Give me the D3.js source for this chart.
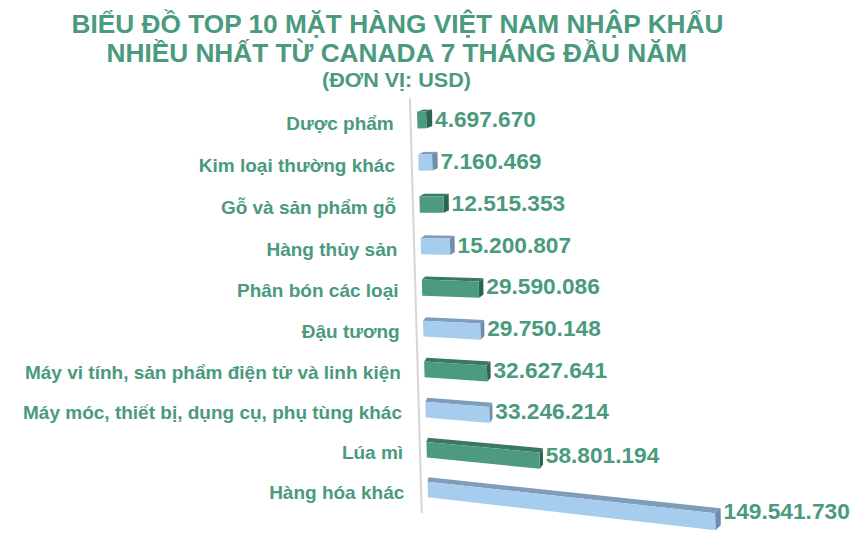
<!DOCTYPE html>
<html>
<head>
<meta charset="utf-8">
<script src="https://cdn.jsdelivr.net/npm/d3@7"></script>
<style>
  html, body { margin: 0; padding: 0; background: #ffffff; }
  svg { display: block; }
</style>
</head>
<body>
<div id="chart"></div>
<script>
// ---------------- DATA ----------------
const titleLines = [
  "BIỂU ĐỒ TOP 10 MẶT HÀNG VIỆT NAM NHẬP KHẨU",
  "NHIỀU NHẤT TỪ CANADA 7 THÁNG ĐẦU NĂM",
  "(ĐƠN VỊ: USD)"
];
const categories = [
  "Dược phẩm",
  "Kim loại thường khác",
  "Gỗ và sản phẩm gỗ",
  "Hàng thủy sản",
  "Phân bón các loại",
  "Đậu tương",
  "Máy vi tính, sản phẩm điện tử và linh kiện",
  "Máy móc, thiết bị, dụng cụ, phụ tùng khác",
  "Lúa mì",
  "Hàng hóa khác"
];
const values = [4697670, 7160469, 12515353, 15200807, 29590086, 29750148, 32627641, 33246214, 58801194, 149541730];

// ---------------- STYLE / LAYOUT ----------------
const W = 857, H = 558;
const textColor = "#4a9a7e";
const palette = [
  { front: "#4c9a7f", top: "#3a7862", side: "#2d6450" },
  { front: "#a6cdee", top: "#7f9cb9", side: "#6e8cab" }
];
const fmt = d3.formatLocale({ decimal: ",", thousands: ".", grouping: [3], currency: ["", ""] }).format(",d");

const svg = d3.select("#chart").append("svg")
  .attr("width", W).attr("height", H)
  .style("font-family", "'Liberation Sans', Arial, Helvetica, sans-serif");

svg.append("rect").attr("width", W).attr("height", H).attr("fill", "#ffffff");

// Value scale (length of bars along the value axis)
const x = d3.scaleLinear().domain([0, d3.max(values)]).range([0, 287.5]);
// Row scale: category index -> row coordinate
const row = d3.scaleLinear().domain([0, categories.length - 1]).range([0, 9]);
const barThick = 0.39; // in row units

// Perspective projection (3D look of the original)
const horizonY = 195, vanishX = -2200;
function leftY(r) { return 10537 - 2550000 / (r + 244.6); }
function leftX(r) { return 417 + 0.0285 * (leftY(r) - 111); }
function project(v, r) {
  const lx = leftX(r), ly = leftY(r);
  const X = lx + x(v);
  const Y = horizonY + (ly - horizonY) * (X - vanishX) / (lx - vanishX);
  return [X, Y];
}
function depth(p) {
  const [X, Y] = p;
  const dx = Math.max(0, Math.min(7, 6 - 5 * (Y - 111) / 370 + 5 * (X - 427) / 290));
  const dy = -(2 + 2.8 * (Y - 111) / 400);
  return [X + dx, Y + dy];
}

// Title
const titleSpecs = [
  { y: 33.3, size: 26, x0: 71.5, x1: 723.5 },
  { y: 61.7, size: 26, x0: 106.5, x1: 687 },
  { y: 86.5, size: 19.5, x0: 322, x1: 471 }
];
titleLines.forEach((t, k) => {
  const s = titleSpecs[k];
  svg.append("text")
    .attr("x", s.x0).attr("y", s.y)
    .attr("textLength", s.x1 - s.x0)
    .attr("lengthAdjust", "spacingAndGlyphs")
    .style("font-family", "'Liberation Sans Narrow', 'Arial Narrow', 'Liberation Sans', Arial, sans-serif")
    .style("font-weight", "bold")
    .style("font-size", s.size + "px")
    .attr("fill", textColor)
    .text(t);
});

// Axis line (left wall edge)
const axTop = [leftX(-0.32) - 6.7, leftY(-0.32)];
const axBot = [leftX(9.79) - 6.7, leftY(9.79)];
svg.append("line")
  .attr("x1", axTop[0]).attr("y1", axTop[1])
  .attr("x2", axBot[0]).attr("y2", axBot[1])
  .attr("stroke", "#d6d6d6").attr("stroke-width", 2);

// Bars
const line = d3.line();
const g = svg.append("g");
values.forEach((v, i) => {
  const r0 = row(i), r1 = row(i) + barThick;
  const col = palette[i % 2];
  const FTL = project(0, r0), FTR = project(v, r0);
  const FBL = project(0, r1), FBR = project(v, r1);
  const BTL = depth(FTL), BTR = depth(FTR), BBR = depth(FBR);
  const bar = g.append("g");
  bar.append("path").attr("d", line([FTL, FTR, BTR, BTL]) + "Z").attr("fill", col.top);
  bar.append("path").attr("d", line([FTR, FBR, BBR, BTR]) + "Z").attr("fill", col.side);
  bar.append("path").attr("d", line([FTL, FTR, FBR, FBL]) + "Z").attr("fill", col.front);

  // value label
  const endDx = BTR[0] - FTR[0];
  const endDy = BTR[1] - FTR[1];
  const cy = (FTR[1] + FBR[1]) / 2 + endDy / 2 - 0.03 * (FTR[0] - FTL[0]);
  svg.append("text")
    .attr("x", FTR[0] + endDx + 3)
    .attr("y", cy + 8.1)
    .style("font-weight", "bold")
    .style("font-size", "22.7px")
    .attr("fill", textColor)
    .text(fmt(v));

  // category label
  svg.append("text")
    .attr("x", leftX(r0 + barThick / 2) - 23.5)
    .attr("y", leftY(r1) + 1.3)
    .attr("text-anchor", "end")
    .style("font-weight", "bold")
    .style("font-size", "19px")
    .attr("fill", textColor)
    .text(categories[i]);
});
</script>
</body>
</html>
